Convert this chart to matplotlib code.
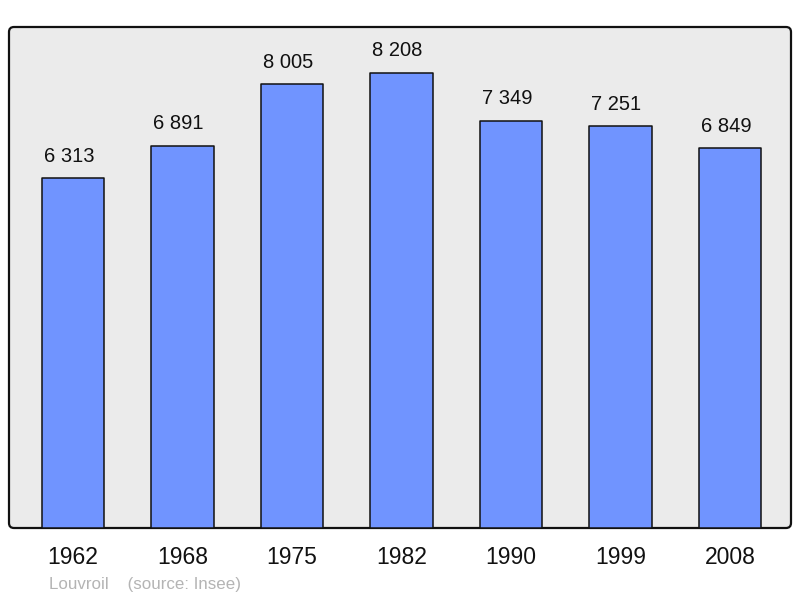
import matplotlib
matplotlib.use("Agg")
import matplotlib.pyplot as plt
from matplotlib.patches import FancyBboxPatch

years = ["1962", "1968", "1975", "1982", "1990", "1999", "2008"]
population = [6313, 6891, 8005, 8208, 7349, 7251, 6849]
labels = ["6 313", "6 891", "8 005", "8 208", "7 349", "7 251", "6 849"]

plt.rcParams['font.family'] = ['Liberation Sans', 'DejaVu Sans']

fig = plt.figure(figsize=(8, 5.98), dpi=100)
ax = fig.add_axes([9/800, 70/598, 782/800, 501/598])
ax.set_facecolor('none')
for s in ax.spines.values():
    s.set_visible(False)

# rounded background frame in pixel coordinates
frame = FancyBboxPatch((9, 70), 782, 501, boxstyle="round,pad=0,rounding_size=5",
                       transform=None, facecolor='#ebebeb', edgecolor='#111111',
                       linewidth=1.6, zorder=-5)
fig.patches.append(frame)

x = list(range(len(years)))
ax.bar(x, population, width=0.57, color='#7094ff', edgecolor='#111111',
       linewidth=1.1, joinstyle='round', zorder=2)
for xi, v, lab in zip(x, population, labels):
    ax.annotate(lab, xy=(xi, v), xytext=(-3, 9), textcoords='offset points',
                ha='center', va='bottom', fontsize=14.5, color='#111111')

ax.set_xlim(-0.584, 6.557)
ax.set_ylim(0, 9037)
ax.set_yticks([])
ax.set_xticks(x)
ax.set_xticklabels(years, fontsize=16.5, color='#111111')
ax.tick_params(axis='x', length=0, pad=13)

fig.text(49/800, 1 - 584/598, "Louvroil    (source: Insee)", fontsize=12.2,
         color='#b4b4b4', ha='left', va='center')

fig.savefig("out.png", dpi=100)
